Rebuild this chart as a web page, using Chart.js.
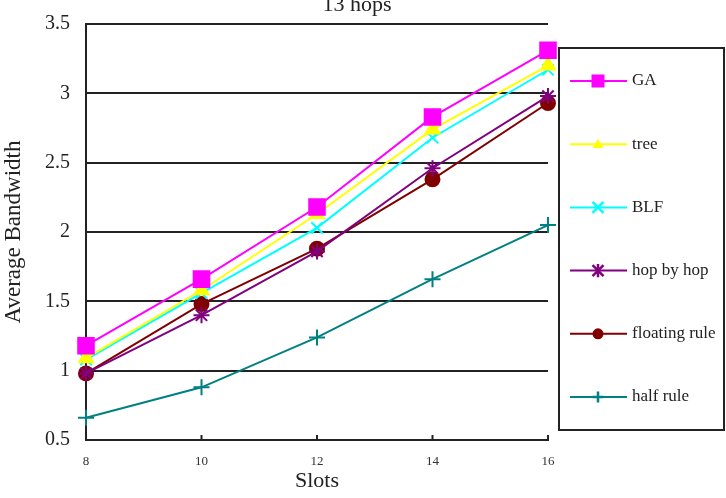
<!DOCTYPE html>
<html>
<head>
<meta charset="utf-8">
<script src="https://cdn.jsdelivr.net/npm/chart.js@4/dist/chart.umd.min.js"></script>
<style>
  html, body { margin: 0; padding: 0; background: #fff; }
  #wrap { width: 726px; height: 498px; position: relative; }
</style>
</head>
<body>
<div id="wrap"><canvas id="chart" width="726" height="498"></canvas></div>
<script>
const slots = [8, 10, 12, 14, 16];

const gaValues       = [1.18, 1.66, 2.18, 2.83, 3.31];
const treeValues     = [1.09, 1.58, 2.13, 2.74, 3.20];
const blfValues      = [1.08, 1.56, 2.03, 2.68, 3.17];
const hopValues      = [0.98, 1.40, 1.86, 2.46, 2.98];
const floatingValues = [0.98, 1.48, 1.88, 2.38, 2.93];
const halfValues     = [0.66, 0.88, 1.24, 1.66, 2.05];

const seriesNames  = ['GA', 'tree', 'BLF', 'hop by hop', 'floating rule', 'half rule'];
const seriesColors = ['#ff00ff', '#ffff00', '#00ffff', '#800080', '#800000', '#008080'];
const seriesStyles = ['rect', 'triangle', 'crossRot', 'star', 'circle', 'cross'];
const seriesRadius = [11, 8, 8, 8, 7, 8];

const allValues = [gaValues, treeValues, blfValues, hopValues, floatingValues, halfValues];

const FONT = '"Liberation Serif", "DejaVu Serif", serif';

// маркер для легенды (свой, без helpers)
function drawMarker(ctx, style, x, y, r) {
    ctx.beginPath();
    if (style === 'rect') {
        ctx.rect(x - r, y - r, 2 * r, 2 * r);
        ctx.fill();
    } else if (style === 'triangle') {
        ctx.moveTo(x, y - r);
        ctx.lineTo(x + r, y + r * 0.7);
        ctx.lineTo(x - r, y + r * 0.7);
        ctx.closePath();
        ctx.fill();
    } else if (style === 'circle') {
        ctx.arc(x, y, r, 0, Math.PI * 2);
        ctx.fill();
    } else if (style === 'crossRot') {
        ctx.moveTo(x - r, y - r); ctx.lineTo(x + r, y + r);
        ctx.moveTo(x + r, y - r); ctx.lineTo(x - r, y + r);
        ctx.stroke();
    } else if (style === 'cross') {
        ctx.moveTo(x - r, y); ctx.lineTo(x + r, y);
        ctx.moveTo(x, y - r); ctx.lineTo(x, y + r);
        ctx.stroke();
    } else if (style === 'star') {
        ctx.moveTo(x - r, y - r); ctx.lineTo(x + r, y + r);
        ctx.moveTo(x + r, y - r); ctx.lineTo(x - r, y + r);
        ctx.moveTo(x, y - r * 1.2); ctx.lineTo(x, y + r * 1.2);
        ctx.stroke();
    }
}

// Рамка легенды справа и заголовок сверху
const sideLegend = {
    id: 'sideLegend',
    afterDraw(chart) {
        const ctx = chart.ctx;
        ctx.save();

        ctx.fillStyle = '#222';
        ctx.font = '22px ' + FONT;
        ctx.textAlign = 'center';
        ctx.textBaseline = 'middle';
        ctx.fillText('13 hops', 357, 5);

        ctx.strokeStyle = '#222';
        ctx.lineWidth = 2;
        ctx.strokeRect(559, 48, 165, 382);

        chart.data.datasets.forEach((ds, i) => {
            const y = 81 + i * 63.2;
            ctx.strokeStyle = ds.borderColor;
            ctx.lineWidth = 2;
            ctx.beginPath();
            ctx.moveTo(570, y);
            ctx.lineTo(627, y);
            ctx.stroke();

            ctx.fillStyle = ds.borderColor;
            ctx.lineWidth = 2.5;
            drawMarker(ctx, ds.pointStyle, 598, y, ds.pointStyle === 'rect' ? 6.5 : 5.5);

            ctx.fillStyle = '#222';
            ctx.font = '17px ' + FONT;
            ctx.textAlign = 'left';
            ctx.fillText(ds.label, 632, y);
        });

        // маленькие риски на оси X внутрь графика
        const xs = chart.scales.x;
        const bottom = chart.chartArea.bottom;
        ctx.strokeStyle = '#222';
        ctx.lineWidth = 2;
        slots.forEach(v => {
            const px = xs.getPixelForValue(v);
            ctx.beginPath();
            ctx.moveTo(px, bottom);
            ctx.lineTo(px, bottom - 5);
            ctx.stroke();
        });

        ctx.restore();
    }
};

const datasets = seriesNames.map((name, i) => ({
    label: name,
    data: slots.map((s, j) => ({ x: s, y: allValues[i][j] })),
    borderColor: seriesColors[i],
    backgroundColor: seriesColors[i],
    pointStyle: seriesStyles[i],
    pointRadius: seriesRadius[i],
    pointBorderWidth: 2,
    borderWidth: 2,
    tension: 0,
    clip: false
}));

new Chart(document.getElementById('chart'), {
    type: 'line',
    data: { datasets: datasets },
    options: {
        responsive: false,
        animation: false,
        layout: {
            padding: { top: 23, right: 178, left: 0, bottom: 0 }
        },
        plugins: {
            legend: { display: false },
            tooltip: { enabled: false }
        },
        scales: {
            x: {
                type: 'linear',
                min: 8,
                max: 16,
                afterFit(scale) { scale.height = 58; },
                ticks: {
                    stepSize: 2,
                    color: '#333',
                    font: { family: FONT, size: 13 },
                    padding: 14
                },
                grid: {
                    drawOnChartArea: false,
                    drawTicks: false
                },
                border: { color: '#222', width: 2 },
                title: {
                    display: true,
                    text: 'Slots',
                    color: '#222',
                    font: { family: FONT, size: 22 },
                    padding: { top: 0 }
                }
            },
            y: {
                min: 0.5,
                max: 3.5,
                afterFit(scale) { scale.width = 86; },
                ticks: {
                    stepSize: 0.5,
                    color: '#222',
                    font: { family: FONT, size: 20, lineHeight: 0.8 },
                    padding: 16,
                    callback: v => String(v)
                },
                grid: {
                    color: '#222',
                    lineWidth: 2,
                    drawTicks: false
                },
                border: { color: '#222', width: 2 },
                title: {
                    display: true,
                    text: 'Average Bandwidth',
                    color: '#222',
                    font: { family: FONT, size: 23 },
                    padding: { bottom: 0, top: 0 }
                }
            }
        }
    },
    plugins: [sideLegend]
});
</script>
</body>
</html>
